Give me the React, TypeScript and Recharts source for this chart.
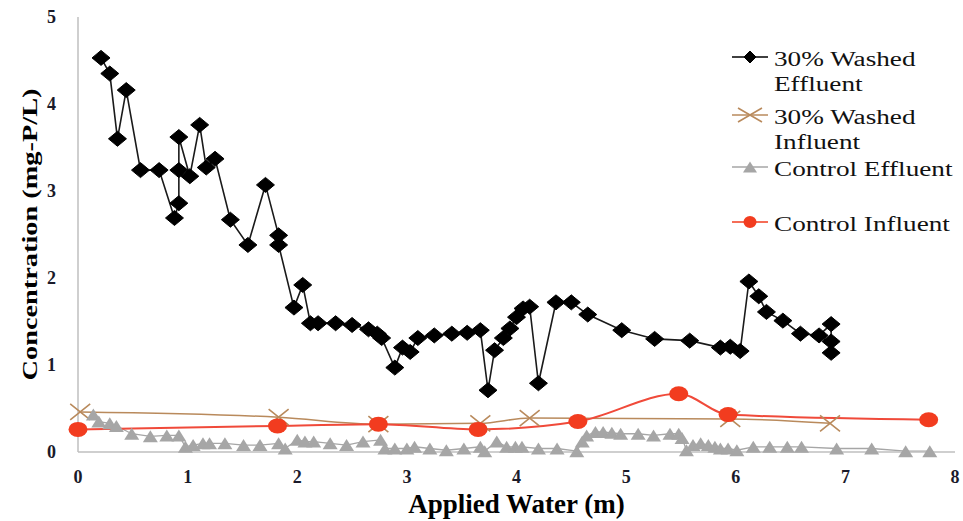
import { Label, Legend, Line, LineChart, XAxis, YAxis } from "recharts";

// 30% Washed Effluent
const washedEffluentX = [
  0.21, 0.29, 0.36, 0.44, 0.57, 0.74, 0.88, 0.92, 0.92, 0.92, 1.02, 1.11, 1.17, 1.25, 1.39, 1.55,
  1.71, 1.83, 1.83, 1.97, 2.05, 2.12, 2.19, 2.35, 2.5, 2.65, 2.73, 2.77, 2.89, 2.96, 3.03, 3.1,
  3.25, 3.41, 3.55, 3.67, 3.74, 3.8, 3.88, 3.94, 4.0, 4.06, 4.12, 4.2, 4.36, 4.5, 4.65, 4.96,
  5.26, 5.58, 5.86, 5.95, 6.04, 6.12, 6.21, 6.28, 6.43, 6.59, 6.76, 6.87, 6.87, 6.87,
];
const washedEffluentY = [
  4.53, 4.35, 3.6, 4.16, 3.24, 3.24, 2.69, 2.86, 3.24, 3.62, 3.17, 3.76, 3.27, 3.37, 2.67, 2.38,
  3.07, 2.49, 2.38, 1.66, 1.92, 1.48, 1.48, 1.48, 1.46, 1.41, 1.36, 1.31, 0.97, 1.2, 1.15, 1.31,
  1.34, 1.36, 1.37, 1.4, 0.71, 1.17, 1.31, 1.42, 1.55, 1.65, 1.67, 0.79, 1.72, 1.72, 1.58, 1.4,
  1.3, 1.28, 1.2, 1.21, 1.16, 1.96, 1.79, 1.61, 1.51, 1.36, 1.34, 1.47, 1.27, 1.14,
];

// 30% Washed Influent
const washedInfluentX = [0.02, 1.83, 2.74, 3.67, 4.12, 5.95, 6.86];
const washedInfluentY = [0.46, 0.4, 0.32, 0.33, 0.39, 0.38, 0.33];

// Control Effluent
const controlEffluentX = [
  0.14, 0.19, 0.29, 0.35, 0.49, 0.66, 0.81, 0.92, 0.98, 1.05, 1.14, 1.2, 1.34, 1.51, 1.66, 1.83,
  1.89, 2.0, 2.07, 2.15, 2.3, 2.45, 2.6, 2.76, 2.8, 2.89, 3.0, 3.07, 3.21, 3.36, 3.52, 3.67,
  3.71, 3.82, 3.91, 3.99, 4.05, 4.2, 4.37, 4.55, 4.6, 4.64, 4.72, 4.79, 4.87, 4.95, 5.11, 5.25,
  5.4, 5.48, 5.51, 5.55, 5.61, 5.68, 5.75, 5.81, 5.86, 5.93, 6.01, 6.16, 6.31, 6.47, 6.6, 6.92,
  7.24, 7.55, 7.77,
];
const controlEffluentY = [
  0.43, 0.35, 0.33, 0.3, 0.21, 0.18, 0.19, 0.19, 0.06, 0.08, 0.1, 0.1, 0.1, 0.08, 0.08, 0.1,
  0.04, 0.14, 0.12, 0.12, 0.1, 0.08, 0.12, 0.14, 0.04, 0.04, 0.04, 0.06, 0.04, 0.02, 0.04, 0.06,
  0.01, 0.12, 0.06, 0.06, 0.06, 0.04, 0.04, 0.01, 0.12, 0.19, 0.23, 0.23, 0.22, 0.21, 0.21, 0.19,
  0.21, 0.21, 0.16, 0.02, 0.08, 0.1, 0.08, 0.06, 0.04, 0.04, 0.02, 0.06, 0.06, 0.06, 0.06, 0.04,
  0.04, 0.01, 0.01,
];

// Control Influent
const controlInfluentX = [0.0, 1.82, 2.74, 3.65, 4.56, 5.48, 5.93, 7.76];
const controlInfluentY = [0.26, 0.3, 0.32, 0.26, 0.35, 0.67, 0.43, 0.37];

const xTicks = [0, 1, 2, 3, 4, 5, 6, 7, 8];
const yTicks = [0, 1, 2, 3, 4, 5];
const legendLabels = [
  ["30% Washed", "Effluent"],
  ["30% Washed", "Influent"],
  ["Control Effluent"],
  ["Control Influent"],
];

const BLACK = "#000000";
const BROWN = "#B98A5C";
const GREY = "#A6A6A6";
const RED = "#F23C1F";
const SERIF = "'Liberation Serif', 'Times New Roman', serif";

const toPoints = (xs: number[], ys: number[]) => xs.map((x, i) => ({ x, y: ys[i] }));

const washedEffluent = toPoints(washedEffluentX, washedEffluentY);
const washedInfluent = toPoints(washedInfluentX, washedInfluentY);
const controlEffluent = toPoints(controlEffluentX, controlEffluentY);
const controlInfluent = toPoints(controlInfluentX, controlInfluentY);

const diamond = (cx: number, cy: number, w: number, h: number, key?: any) => (
  <polygon
    key={key}
    points={`${cx - w},${cy} ${cx},${cy - h} ${cx + w},${cy} ${cx},${cy + h}`}
    fill={BLACK}
    stroke={BLACK}
    strokeWidth={1}
  />
);
const triangle = (cx: number, cy: number, w: number, h: number, key?: any) => (
  <polygon
    key={key}
    points={`${cx - w},${cy + h / 2} ${cx},${cy - h / 2} ${cx + w},${cy + h / 2}`}
    fill={GREY}
  />
);
const cross = (cx: number, cy: number, w: number, h: number, key?: any) => (
  <path
    key={key}
    d={`M${cx - w},${cy - h}L${cx + w},${cy + h}M${cx - w},${cy + h}L${cx + w},${cy - h}`}
    stroke={BROWN}
    strokeWidth={1.6}
    fill="none"
  />
);
const dot = (cx: number, cy: number, rx: number, ry: number, key?: any) => (
  <ellipse key={key} cx={cx} cy={cy} rx={rx} ry={ry} fill={RED} />
);

const DiamondDot = (p: any) => (p.cx == null ? null : diamond(p.cx, p.cy, 9, 7.5, `d${p.index}`));
const TriangleDot = (p: any) => (p.cx == null ? null : triangle(p.cx, p.cy, 7.5, 12, `t${p.index}`));
const CrossDot = (p: any) => (p.cx == null ? null : cross(p.cx, p.cy, 10, 8, `x${p.index}`));
const CircleDot = (p: any) => (p.cx == null ? null : dot(p.cx, p.cy, 9.5, 7.5, `c${p.index}`));

const legendIcons = [
  { color: BLACK, marker: (cx: number, cy: number) => diamond(cx, cy, 6, 6) },
  { color: BROWN, marker: (cx: number, cy: number) => cross(cx, cy, 12, 7) },
  { color: GREY, marker: (cx: number, cy: number) => triangle(cx, cy, 7, 11) },
  { color: RED, marker: (cx: number, cy: number) => dot(cx, cy, 6.5, 6) },
];
const legendRows = [22, 80, 132, 187];

const renderLegend = () => (
  <svg width={238} height={215}>
    {legendLabels.map((lines, i) => {
      const y = legendRows[i];
      return (
        <g key={i}>
          <line x1={7} x2={43} y1={y} y2={y} stroke={legendIcons[i].color} strokeWidth={1.5} />
          {legendIcons[i].marker(25, y)}
          <g transform={`translate(49,0) scale(1.36,1)`}>
            {lines.map((t, j) => (
              <text key={j} x={0} y={y + 9 + j * 25} fontFamily={SERIF} fontSize={20} fill="#111">
                {t}
              </text>
            ))}
          </g>
        </g>
      );
    })}
  </svg>
);

const tickStyle = { fontFamily: SERIF, fontSize: 18, fontWeight: 700, fill: "#1a1a2a" };

export default function App() {
  return (
    <div style={{ position: "absolute", left: 0, top: 0, background: "#fff" }}>
      <LineChart width={963} height={521} margin={{ top: 17, right: 8, bottom: 0, left: 0 }}>
        <XAxis
          type="number"
          dataKey="x"
          domain={[0, 8]}
          ticks={xTicks}
          height={69}
          tickLine={false}
          tickSize={6}
          tickMargin={12}
          axisLine={{ stroke: "#BFBFBF", strokeWidth: 1.5 }}
          tick={tickStyle}
        >
          <Label
            content={(props: any) => {
              const vb = props.viewBox || {};
              return (
                <text
                  x={vb.x + vb.width / 2}
                  y={513}
                  textAnchor="middle"
                  fontFamily={SERIF}
                  fontSize={27}
                  fontWeight={700}
                  fill="#000"
                >
                  Applied Water (m)
                </text>
              );
            }}
          />
        </XAxis>
        <YAxis
          type="number"
          dataKey="y"
          domain={[0, 5]}
          ticks={yTicks}
          width={78}
          tickLine={false}
          tickSize={6}
          tickMargin={16}
          axisLine={{ stroke: "#BFBFBF", strokeWidth: 1.5 }}
          tick={tickStyle}
        >
          <Label
            content={(props: any) => {
              const vb = props.viewBox || {};
              const cy = vb.y + vb.height / 2;
              return (
                <text
                  x={29}
                  y={cy}
                  transform={`rotate(-90 29 ${cy})`}
                  textAnchor="middle"
                  dominantBaseline="central"
                  fontFamily={SERIF}
                  fontSize={22}
                  fontWeight={700}
                  textLength={292}
                  lengthAdjust="spacingAndGlyphs"
                  fill="#000"
                >
                  Concentration (mg-P/L)
                </text>
              );
            }}
          />
        </YAxis>
        <Legend
          layout="horizontal"
          verticalAlign="middle"
          align="center"
          content={renderLegend}
          wrapperStyle={{ left: 725, top: 35, width: 238, height: 215 }}
        />
        <Line
          data={washedEffluent}
          dataKey="y"
          name="30% Washed Effluent"
          type="linear"
          stroke="#1a1a1a"
          strokeWidth={1.6}
          dot={DiamondDot}
          activeDot={false}
          isAnimationActive={false}
        />
        <Line
          data={washedInfluent}
          dataKey="y"
          name="30% Washed Influent"
          type="monotone"
          stroke={BROWN}
          strokeWidth={1.5}
          dot={CrossDot}
          activeDot={false}
          isAnimationActive={false}
        />
        <Line
          data={controlEffluent}
          dataKey="y"
          name="Control Effluent"
          type="linear"
          stroke={GREY}
          strokeWidth={1.3}
          dot={TriangleDot}
          activeDot={false}
          isAnimationActive={false}
        />
        <Line
          data={controlInfluent}
          dataKey="y"
          name="Control Influent"
          type="monotone"
          stroke="#F04A3A"
          strokeWidth={2}
          dot={CircleDot}
          activeDot={false}
          isAnimationActive={false}
        />
      </LineChart>
    </div>
  );
}
